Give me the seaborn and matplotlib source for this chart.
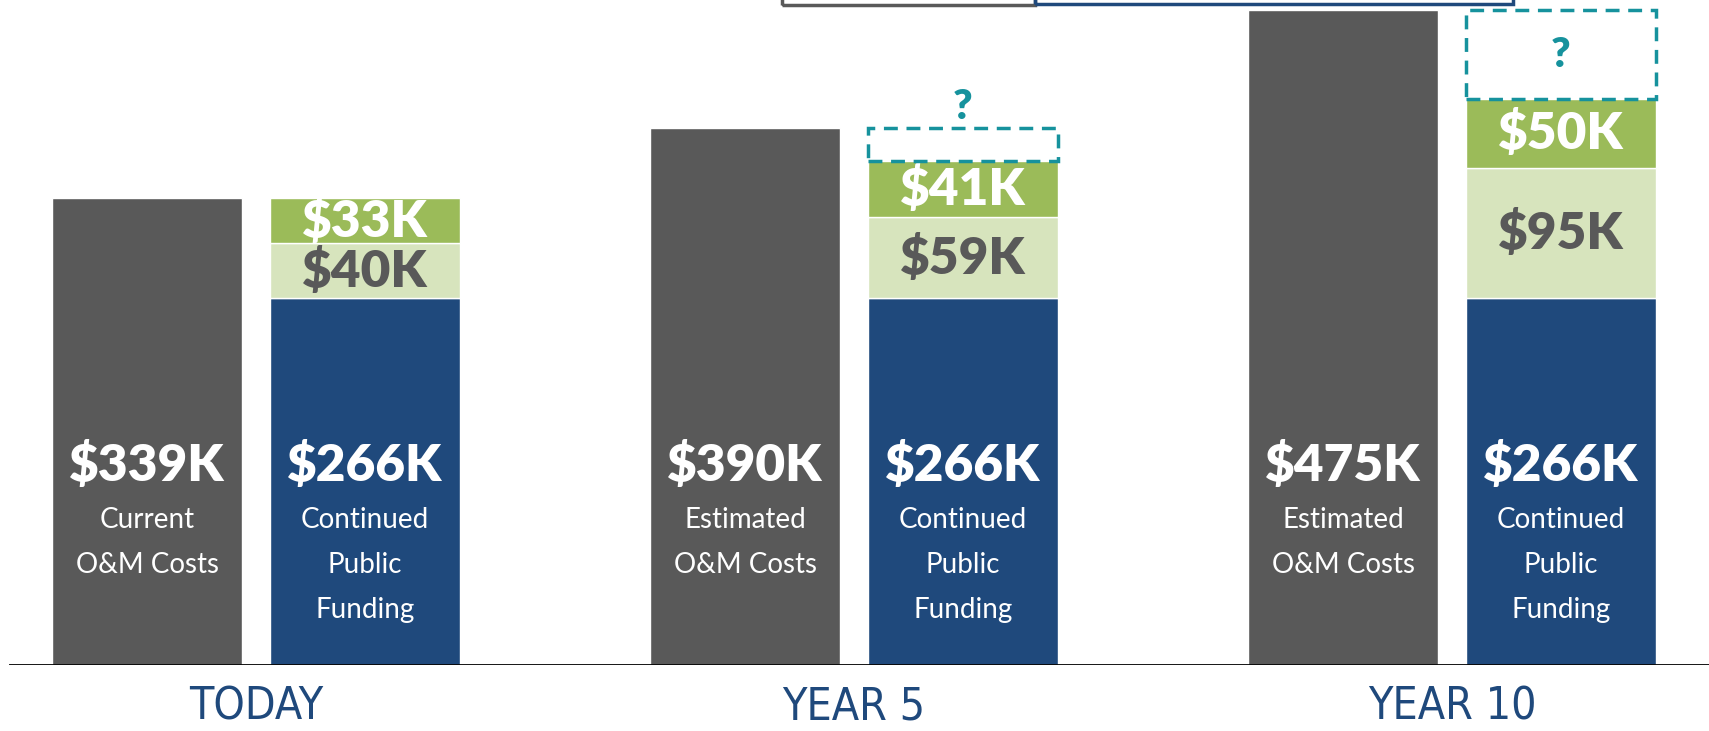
import pandas as pd
import matplotlib.pyplot as plt
import seaborn as sns
from matplotlib.patches import Rectangle

# ---------------------------
# DATA
# ---------------------------
groups = ["TODAY", "YEAR 5", "YEAR 10"]
om_costs = [339, 390, 475]          # $K, grey bars
public_funding = [266, 266, 266]    # $K, blue bars
gap_light = [40, 59, 95]            # $K, light green segment
gap_green = [33, 41, 50]            # $K, green segment
om_labels = [["Current", "O&M Costs"],
             ["Estimated", "O&M Costs"],
             ["Estimated", "O&M Costs"]]
funding_label = ["Continued", "Public", "Funding"]

# colours
GREY = "#595959"
BLUE = "#1F497C"
GREEN = "#9BBB59"
LIGHT = "#D7E4BD"
TEAL = "#16929D"

sns.set_style("white")
plt.rcParams["font.family"] = ["Lato", "DejaVu Sans"]

df = pd.DataFrame({
    "group": groups * 2,
    "value": om_costs + public_funding,
    "kind": ["om"] * 3 + ["fund"] * 3,
})

fig = plt.figure(figsize=(17.09, 7.31), dpi=100)
ax = fig.add_axes([9 / 1709, 66 / 731, 1 - 9 / 1709, 665 / 731])

sns.barplot(data=df, x="group", y="value", hue="kind", hue_order=["om", "fund"],
            palette=[GREY, BLUE], saturation=1, width=0.728, gap=0.128,
            legend=False, ax=ax)

bars = sorted(ax.patches, key=lambda p: p.get_x())
grey_bars = bars[0::2]
blue_bars = bars[1::2]

big = dict(ha="center", va="center", fontsize=37, fontweight="heavy")
small = dict(ha="center", va="center", fontsize=20, color="white")

for i in range(len(groups)):
    gp, bp = grey_bars[i], blue_bars[i]
    gx = gp.get_x() + gp.get_width() / 2
    bx = bp.get_x() + bp.get_width() / 2
    w = bp.get_width()

    # stacked funding gap segments
    base = public_funding[i]
    ax.bar(bp.get_x(), gap_light[i], width=w, bottom=base, align="edge", color=LIGHT)
    ax.bar(bp.get_x(), gap_green[i], width=w, bottom=base + gap_light[i], align="edge", color=GREEN)
    ax.text(bx, base + gap_light[i] / 2, f"${gap_light[i]}K", color=GREY, **big)
    ax.text(bx, base + gap_light[i] + gap_green[i] / 2, f"${gap_green[i]}K", color="white", **big)

    # unknown remainder
    top = base + gap_light[i] + gap_green[i]
    unknown = om_costs[i] - top
    if unknown > 0:
        ax.add_patch(Rectangle((bp.get_x(), top), w, unknown, fill=False,
                               ec=TEAL, lw=2.5, ls=(0, (4, 2.5)), zorder=3))
        qy = top + unknown / 2 if unknown > 40 else om_costs[i] + 15
        ax.text(bx, qy, "?", color=TEAL, ha="center", va="center",
                fontsize=30, fontweight="heavy")

    # labels inside the bars
    ax.text(gx, 145, f"${om_costs[i]}K", color="white", **big)
    ax.text(bx, 145, f"${public_funding[i]}K", color="white", **big)
    for k, line in enumerate(om_labels[i]):
        ax.text(gx, 105 - 32.5 * k, line, **small)
    for k, line in enumerate(funding_label):
        ax.text(bx, 105 - 32.5 * k, line, **small)

ax.set_xlim(-0.413, 2.43)
ax.set_ylim(0, 482.6)
ax.axhline(0, color="black", lw=2, zorder=5)
sns.despine(ax=ax, left=True, bottom=True)
ax.set_yticks([])
ax.set_xlabel("")
ax.set_ylabel("")
ax.tick_params(axis="x", length=0, pad=15)
for lab in ax.get_xticklabels():
    lab.set_color(BLUE)
    lab.set_fontsize(32)
    lab.set_fontstretch("condensed")
    lab.set_family(["DejaVu Sans"])

# cut-off boxes at the very top of the slide
fig.patches.append(Rectangle((782 / 1709, 726 / 731), 253 / 1709, 0.1, transform=fig.transFigure,
                             fill=False, ec=GREY, lw=2.5))
fig.patches.append(Rectangle((1035 / 1709, 727 / 731), 478 / 1709, 0.1, transform=fig.transFigure,
                             fill=False, ec=BLUE, lw=2.5))

fig.savefig("out.png", dpi=100)
